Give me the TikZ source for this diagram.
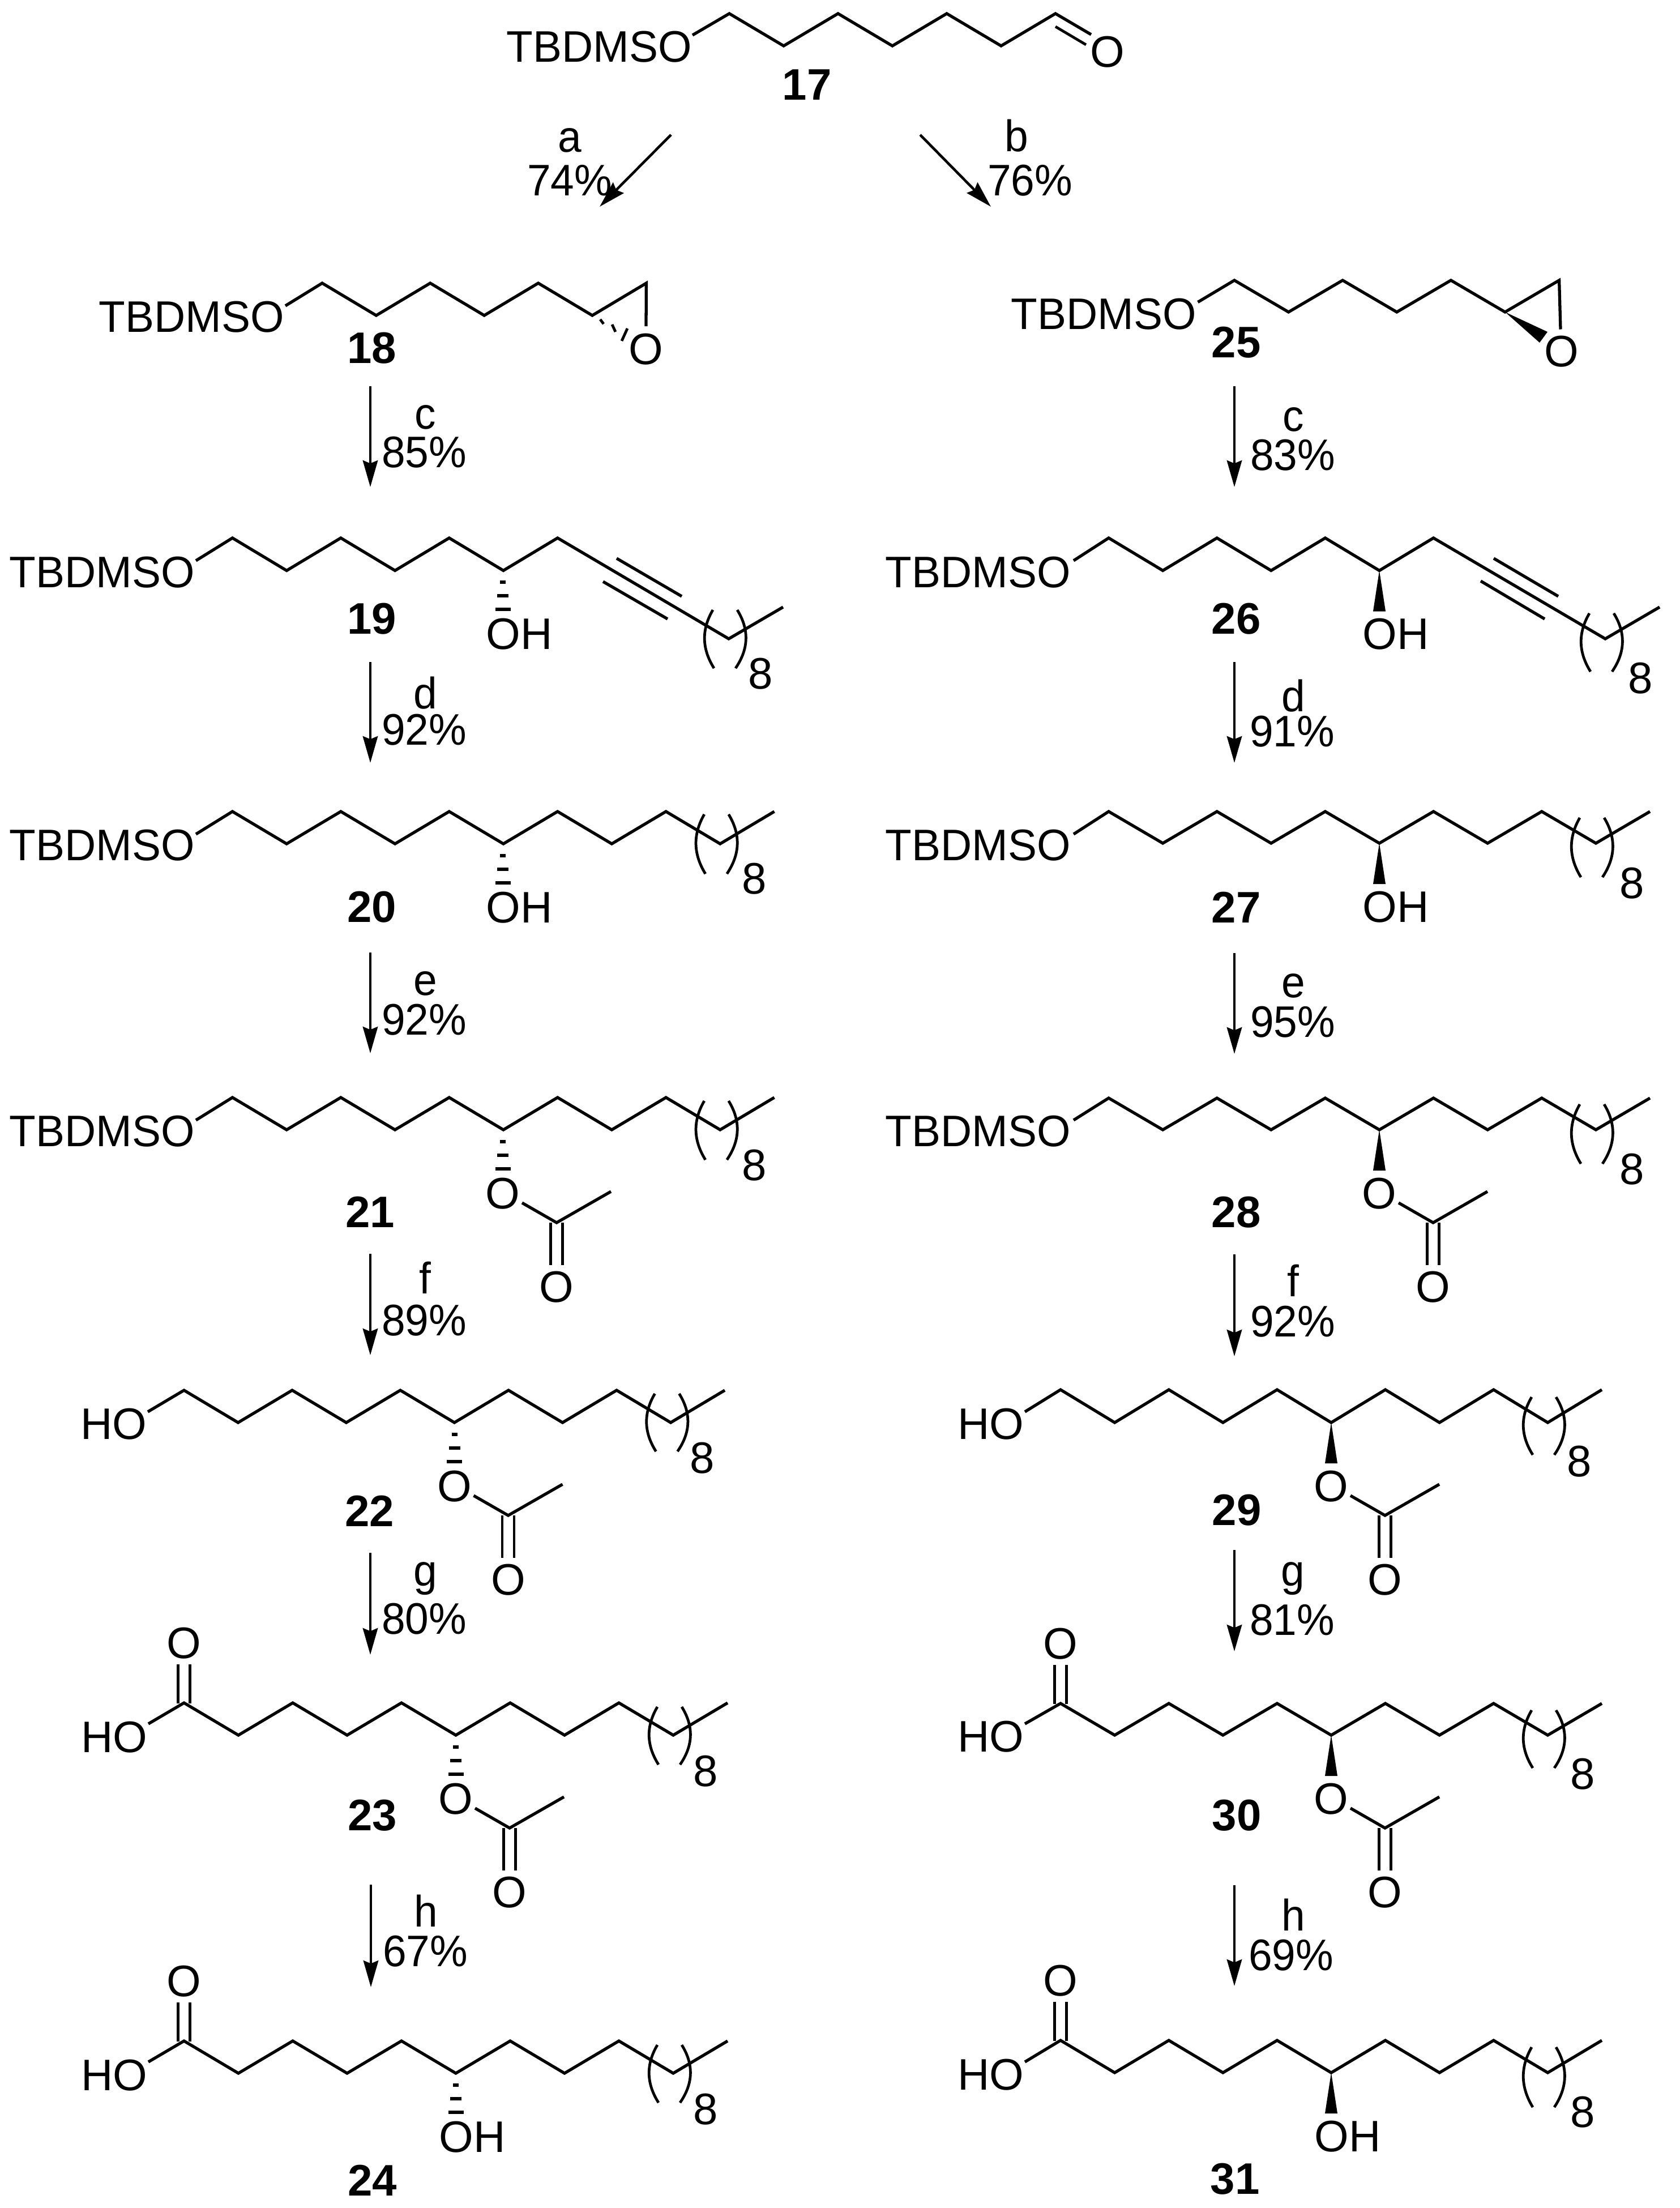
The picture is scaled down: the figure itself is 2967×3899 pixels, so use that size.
\documentclass[tikz,border=0pt]{standalone}
\usepackage{fontspec}
\setmainfont{Liberation Sans}
\newfontfamily\tbdfont[FakeStretch=0.98]{Liberation Sans}
\newfontfamily\pctfont[FakeStretch=0.96]{Liberation Sans}
\usetikzlibrary{arrows.meta}
\tikzset{
  bond/.style={line width=3pt,line join=miter,miter limit=10},
  thinb/.style={line width=2.7pt},
  rxn/.style={line width=2.6pt,-{Stealth[length=26.7pt,width=15pt,inset=3pt]}},
  atom/.style={inner sep=0pt,font=\fontsize{44.4}{50}\selectfont},
  tbd/.style={inner sep=0pt,font=\fontsize{44.4}{50}\selectfont\tbdfont},
  pct/.style={inner sep=0pt,anchor=base,font=\fontsize{44.4}{50}\selectfont\pctfont},
  cmpd/.style={inner sep=0pt,font=\fontsize{44.4}{50}\selectfont\bfseries},
}
% chain: start point, first top vertex, dx, top y, bottom y, number of steps, tail
\newcommand{\zigpath}[8]{\draw[bond] (#1,#2) -- (#3,#5)
  \foreach \i in {1,...,#7}{ -- ({#3+\i*#4},{ifthenelse(mod(\i,2)==0,#5,#6)}) } #8;}
\newcommand{\brk}[5]{%
  \draw[thinb] ({#1-28},#2) .. controls ({#1-48},{#2+0.33*(#3-#2)}) and ({#1-48},{#2+0.66*(#3-#2)}) .. ({#1-26},#3);
  \draw[thinb] ({#1+15},#2) .. controls ({#1+36},{#2+0.33*(#3-#2)}) and ({#1+36},{#2+0.66*(#3-#2)}) .. ({#1+12},#3);
  \node[atom] (n8#5) at #4 {8};}
\newcommand{\hatchb}[2]{%
  \draw[bond] ({#1-5},{#2+21}) -- ({#1+5},{#2+21});
  \draw[bond] ({#1-10},{#2+45}) -- ({#1+10},{#2+45});
  \draw[bond] ({#1-13.5},{#2+69}) -- ({#1+13.5},{#2+69});}
\newcommand{\wedgeb}[2]{\fill ({#1},{#2}) -- ({#1-11},{#2+72}) -- ({#1+11},{#2+72}) -- cycle;}
\newcommand{\acet}[3]{%
  \node[atom] (oa#3) at (#1,{#2+113}) {O};
  \draw[bond] ({#1+34},{#2+129}) -- ({#1+95},{#2+164}) -- ({#1+191},{#2+109});
  \draw[thinb] ({#1+84.5},{#2+164}) -- ({#1+84.5},{#2+239});
  \draw[thinb] ({#1+105.5},{#2+164}) -- ({#1+105.5},{#2+239});
  \node[atom] (ob#3) at ({#1+95},{#2+278}) {O};}
\newcommand{\oh}[3]{\node[atom,anchor=west] (oh#3) at ({#1-30},{#2+113}) {OH};}
\newcommand{\acid}[3]{%
  \draw[thinb] ({#1-10.5},{#2-68}) -- ({#1-10.5},{#2+1});
  \draw[thinb] ({#1+10.5},{#2-68}) -- ({#1+10.5},{#2+1});
  \node[atom] (oc#3) at (#1,{#2-105}) {O};}
\newcommand{\rxnarrow}[7]{%
  \coordinate (s#1#2) at (#1,#2);
  \coordinate (e#1#2) at (#1,#3);
  \draw[rxn] (s#1#2) -- (e#1#2);
  \node[pct] (l#1#2) at #5 {#4};
  \node[pct] (p#1#2) at #7 {#6};}
\begin{document}
\begin{tikzpicture}[x=0.02cm,y=-0.02cm]
\useasboundingbox (0,0) rectangle (2967,3899);
\fill[white] (0,0) rectangle (2967,3899);

% 17
\node[tbd,anchor=east] (t17) at (1222,83) {TBDMSO};
\zigpath{1223}{62}{1288}{96}{24}{81}{6}{-- (1927,61)}
\draw[thinb] (1864,47) -- (1918,79);
\node[atom] (o17) at (1956,92) {O};
\node[cmpd] (c17) at (1425,150) {17};
\coordinate (as) at (1185,238); \coordinate (ae) at (1059,365);
\draw[rxn] (as) -- (ae);
\node[pct] (la) at (1006,268) {a};
\node[pct] (pa) at (1006,345) {74\%};
\coordinate (bs) at (1625,238); \coordinate (be) at (1750,365);
\draw[rxn] (bs) -- (be);
\node[pct] (lb) at (1795,267) {b};
\node[pct] (pb) at (1819,345) {76\%};

% 18
\node[tbd,anchor=east] (t18) at (502,560) {TBDMSO};
\zigpath{504}{540}{569}{95.4}{500}{557}{6}{-- (1141,576)}
\node[atom] (o18) at (1141,617) {O};
\draw[thinb] (1060,564) -- (1066,572);
\draw[thinb] (1081,573) -- (1087,586);
\draw[thinb] (1108,580) -- (1098,602);
\node[cmpd] (c18) at (657,615) {18};

% 19
\node[tbd,anchor=east] (t19) at (344,1011) {TBDMSO};
\zigpath{346}{990}{410.5}{95.7}{950}{1007.5}{6}{-- (1287,1128) -- (1383,1072)}
\draw[bond] (1089,986) -- (1204,1053);
\draw[bond] (1065,1027) -- (1179,1093);
\hatchb{888}{1007}
\oh{888}{1007}{19}
\brk{1287}{1077}{1180}{(1343,1190)}{19}
\node[cmpd] (c19) at (657,1093) {19};

% 20
\node[tbd,anchor=east] (t20) at (344,1493) {TBDMSO};
\zigpath{346}{1473}{410.5}{95.7}{1433}{1490}{10}{}
\hatchb{888}{1490}
\oh{888}{1490}{20}
\brk{1271.8}{1438}{1543}{(1332,1552)}{20}
\node[cmpd] (c20) at (657,1602) {20};

% 21
\node[tbd,anchor=east] (t21) at (344,1998) {TBDMSO};
\zigpath{346}{1978}{410.5}{95.7}{1938}{1995}{10}{}
\hatchb{888}{1995}
\acet{888}{1995}{21}
\brk{1271.8}{1944}{2048}{(1332,2058)}{21}
\node[cmpd] (c21) at (654,2140) {21};

% 22
\node[atom,anchor=east] (t22) at (260,2515) {HO};
\zigpath{261}{2493}{325}{95.5}{2455}{2512}{10}{}
\hatchb{802.5}{2512}
\acet{802.5}{2512}{22}
\brk{1184.5}{2461}{2563}{(1240,2575)}{22}
\node[cmpd] (c22) at (653,2668) {22};

% 23
\node[atom,anchor=east] (t23) at (261,3068) {HO};
\zigpath{262}{3044}{325}{96}{3007}{3064}{10}{}
\acid{325}{3007}{23}
\hatchb{805}{3064}
\acet{805}{3064}{23}
\brk{1189}{3014}{3116}{(1246,3128)}{23}
\node[cmpd] (c23) at (658,3206) {23};

% 24
\node[atom,anchor=east] (t24) at (261,3665) {HO};
\zigpath{262}{3641}{325}{96}{3604}{3661}{10}{}
\acid{325}{3604}{24}
\hatchb{805}{3661}
\oh{805}{3661}{24}
\brk{1189}{3611}{3713}{(1246,3725)}{24}
\node[cmpd] (c24) at (658,3850) {24};

% 25
\node[tbd,anchor=east] (t25) at (2113,555) {TBDMSO};
\zigpath{2115.5}{533.5}{2180}{95.6}{495}{551}{6}{-- (2756,581.5)}
\node[atom] (o25) at (2758,621) {O};
\fill (2658,551) -- (2733,586) -- (2719,605) -- cycle;
\node[cmpd] (c25) at (2183,605) {25};

% 26
\node[tbd,anchor=east] (t26) at (1891,1011) {TBDMSO};
\zigpath{1896}{990}{1958}{95.6}{950}{1007.5}{6}{-- (2835,1128) -- (2931,1072)}
\draw[bond] (2638,986) -- (2752,1053);
\draw[bond] (2615,1026) -- (2728,1093);
\wedgeb{2436}{1007.5}
\oh{2436}{1007}{26}
\brk{2835}{1083}{1186}{(2897,1198)}{26}
\node[cmpd] (c26) at (2183,1093) {26};

% 27
\node[tbd,anchor=east] (t27) at (1891,1493) {TBDMSO};
\zigpath{1896}{1473}{1958}{95.6}{1433}{1489}{10}{}
\wedgeb{2436}{1489}
\oh{2436}{1489}{27}
\brk{2818}{1444}{1549}{(2882,1560)}{27}
\node[cmpd] (c27) at (2183,1602) {27};

% 28
\node[tbd,anchor=east] (t28) at (1891,1998) {TBDMSO};
\zigpath{1896}{1978}{1958}{95.6}{1939}{1995}{10}{}
\wedgeb{2436}{1995}
\acet{2436}{1995}{28}
\brk{2818}{1950}{2055}{(2882,2065)}{28}
\node[cmpd] (c28) at (2183,2141) {28};

% 29
\node[atom,anchor=east] (t29) at (1809,2515) {HO};
\zigpath{1810}{2493}{1873}{95.6}{2454}{2512}{10}{}
\wedgeb{2351}{2512}
\acet{2351}{2512}{29}
\brk{2733}{2467}{2569}{(2789,2581)}{29}
\node[cmpd] (c29) at (2184,2667) {29};

% 30
\node[atom,anchor=east] (t30) at (1809,3067) {HO};
\zigpath{1810}{3044}{1873}{95.6}{3008}{3064}{10}{}
\acid{1873}{3008}{30}
\wedgeb{2351}{3064}
\acet{2351}{3064}{30}
\brk{2733}{3020}{3122}{(2795,3133)}{30}
\node[cmpd] (c30) at (2184,3206) {30};

% 31
\node[atom,anchor=east] (t31) at (1809,3664) {HO};
\zigpath{1810}{3641}{1873}{95.6}{3603}{3660}{10}{}
\acid{1873}{3603}{31}
\wedgeb{2351}{3660}
\oh{2351}{3660}{31}
\brk{2733}{3615}{3721}{(2795,3730)}{31}
\node[cmpd] (c31) at (2181,3848) {31};

% reaction arrows, left
\rxnarrow{654}{682}{860}{c}{(751,757)}{85\%}{(749,825)}
\rxnarrow{654}{1169}{1347}{d}{(751,1251)}{92\%}{(749,1315)}
\rxnarrow{654}{1682}{1860}{e}{(751,1757)}{92\%}{(749,1827)}
\rxnarrow{654}{2214}{2393}{f}{(751,2284)}{89\%}{(749,2358)}
\rxnarrow{654}{2742}{2922}{g}{(751,2800)}{80\%}{(749,2885)}
\rxnarrow{655}{3328}{3509}{h}{(752,3402)}{67\%}{(751,3472)}
% reaction arrows, right
\rxnarrow{2180}{682}{860}{c}{(2284,761)}{83\%}{(2283,830)}
\rxnarrow{2180}{1169}{1347}{d}{(2284,1256)}{91\%}{(2282,1318)}
\rxnarrow{2180}{1683}{1861}{e}{(2284,1761)}{95\%}{(2283,1831)}
\rxnarrow{2180}{2215}{2395}{f}{(2284,2289)}{92\%}{(2283,2360)}
\rxnarrow{2180}{2737}{2916}{g}{(2283,2800)}{81\%}{(2282,2887)}
\rxnarrow{2180}{3329}{3507}{h}{(2284,3409)}{69\%}{(2280,3479)}
\end{tikzpicture}
\end{document}
